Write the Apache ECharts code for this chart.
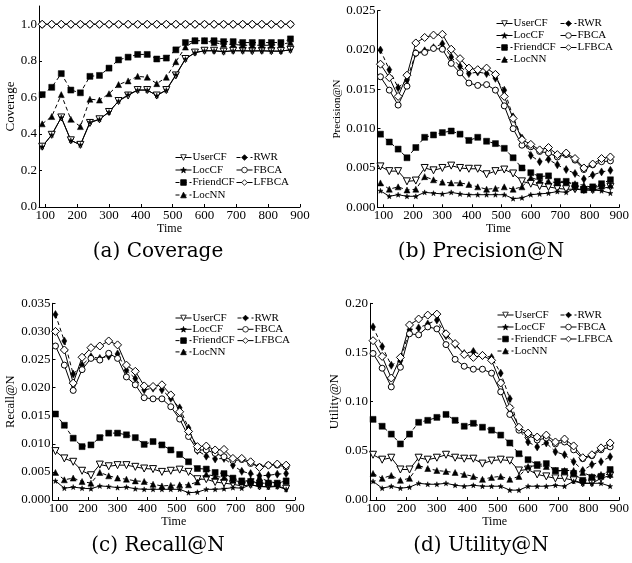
<!DOCTYPE html>
<html><head><meta charset="utf-8">
<script src="https://cdn.jsdelivr.net/npm/echarts@6/dist/echarts.min.js"></script>
<style>html,body{margin:0;padding:0;background:#fff}#c{width:632px;height:563px}</style>
</head><body><div id="c"></div>
<script>
// ---------- data ----------
const times = [90,120,150,180,210,240,270,300,330,360,390,420,450,480,510,540,570,600,630,660,690,720,750,780,810,840,870];
const xTickValues = [100,200,300,400,500,600,700,800,900];
const methods = ['UserCF','LocCF','FriendCF','LocNN','RWR','FBCA','LFBCA'];

// (a) Coverage
const UserCF_a   = [0.33,0.395,0.49,0.365,0.34,0.46,0.48,0.52,0.58,0.61,0.64,0.64,0.61,0.64,0.72,0.81,0.845,0.855,0.855,0.85,0.855,0.855,0.853,0.855,0.853,0.853,0.86];
const LocCF_a    = [0.33,0.395,0.49,0.365,0.34,0.465,0.48,0.52,0.58,0.615,0.64,0.64,0.61,0.64,0.725,0.81,0.845,0.855,0.855,0.85,0.855,0.855,0.855,0.855,0.853,0.853,0.86];
const FriendCF_a = [0.615,0.655,0.73,0.64,0.625,0.715,0.72,0.76,0.805,0.82,0.835,0.835,0.81,0.815,0.86,0.9,0.91,0.91,0.91,0.905,0.905,0.9,0.9,0.9,0.9,0.9,0.92];
const LocNN_a    = [0.455,0.495,0.615,0.48,0.44,0.59,0.585,0.62,0.67,0.69,0.715,0.71,0.675,0.71,0.795,0.875,0.91,0.91,0.9,0.89,0.89,0.885,0.885,0.885,0.885,0.89,0.9];
const RWR_a      = [1,1,1,1,1,1,1,1,1,1,1,1,1,1,1,1,1,1,1,1,1,1,1,1,1,1,1];
const FBCA_a     = [1,1,1,1,1,1,1,1,1,1,1,1,1,1,1,1,1,1,1,1,1,1,1,1,1,1,1];
const LFBCA_a    = [1,1,1,1,1,1,1,1,1,1,1,1,1,1,1,1,1,1,1,1,1,1,1,1,1,1,1];

// (b) Precision@N
const UserCF_b   = [0.0052,0.0046,0.0046,0.0033,0.0034,0.0050,0.0047,0.0050,0.0053,0.0050,0.0049,0.0049,0.0042,0.0046,0.0048,0.0043,0.0033,0.0030,0.0027,0.0026,0.0024,0.0023,0.0023,0.0022,0.0022,0.0024,0.0026];
const LocCF_b    = [0.0021,0.0014,0.0016,0.0014,0.0014,0.0019,0.0018,0.0017,0.0019,0.0017,0.0016,0.0016,0.0016,0.0016,0.0016,0.0011,0.0012,0.0016,0.0017,0.0018,0.0020,0.0019,0.0024,0.0022,0.0022,0.0021,0.0018];
const FriendCF_b = [0.0093,0.0083,0.0074,0.0063,0.0076,0.0089,0.0092,0.0095,0.0097,0.0093,0.0085,0.0089,0.0084,0.0081,0.0075,0.0063,0.0050,0.0044,0.0039,0.0040,0.0033,0.0033,0.0028,0.0022,0.0026,0.0030,0.0035];
const LocNN_b    = [0.0031,0.0023,0.0026,0.0022,0.0023,0.0039,0.0035,0.0032,0.0031,0.0031,0.0029,0.0026,0.0023,0.0024,0.0026,0.0023,0.0026,0.0038,0.0034,0.0033,0.0031,0.0032,0.0030,0.0028,0.0025,0.0027,0.0028];
const RWR_b      = [0.0200,0.0175,0.0152,0.0162,0.0196,0.0199,0.0203,0.0208,0.0191,0.0179,0.0170,0.0172,0.0170,0.0164,0.0149,0.0115,0.0088,0.0066,0.0058,0.0061,0.0054,0.0048,0.0043,0.0036,0.0041,0.0045,0.0047];
const FBCA_b     = [0.0166,0.0149,0.0130,0.0154,0.0196,0.0197,0.0202,0.0201,0.0183,0.0171,0.0158,0.0155,0.0156,0.0149,0.0129,0.0100,0.0079,0.0077,0.0071,0.0069,0.0064,0.0067,0.0060,0.0048,0.0054,0.0058,0.0059];
const LFBCA_b    = [0.0182,0.0165,0.0141,0.0168,0.0209,0.0216,0.0219,0.0220,0.0201,0.0189,0.0177,0.0175,0.0177,0.0169,0.0141,0.0113,0.0086,0.0080,0.0073,0.0076,0.0067,0.0069,0.0062,0.0050,0.0055,0.0062,0.0064];

// (c) Recall@N
const UserCF_c   = [0.0087,0.0074,0.0068,0.0052,0.0044,0.0063,0.0060,0.0062,0.0062,0.0059,0.0056,0.0055,0.0050,0.0052,0.0054,0.0050,0.0037,0.0037,0.0032,0.0030,0.0028,0.0025,0.0027,0.0024,0.0024,0.0025,0.0020];
const LocCF_c    = [0.0034,0.0021,0.0023,0.0021,0.0020,0.0025,0.0024,0.0022,0.0023,0.0020,0.0019,0.0019,0.0019,0.0019,0.0019,0.0013,0.0014,0.0019,0.0019,0.0020,0.0022,0.0021,0.0027,0.0024,0.0023,0.0024,0.0019];
const FriendCF_c = [0.0153,0.0133,0.0110,0.0095,0.0098,0.0111,0.0119,0.0119,0.0116,0.0111,0.0099,0.0104,0.0098,0.0089,0.0081,0.0068,0.0056,0.0055,0.0049,0.0047,0.0039,0.0034,0.0033,0.0030,0.0030,0.0030,0.0034];
const LocNN_c    = [0.0049,0.0036,0.0039,0.0033,0.0030,0.0049,0.0043,0.0039,0.0037,0.0034,0.0033,0.0028,0.0025,0.0026,0.0027,0.0027,0.0032,0.0046,0.0042,0.0040,0.0035,0.0032,0.0036,0.0040,0.0033,0.0030,0.0033];
const RWR_c      = [0.0330,0.0283,0.0224,0.0240,0.0255,0.0252,0.0256,0.0260,0.0231,0.0216,0.0196,0.0199,0.0196,0.0181,0.0164,0.0128,0.0088,0.0078,0.0073,0.0074,0.0062,0.0051,0.0047,0.0043,0.0044,0.0046,0.0047];
const FBCA_c     = [0.0274,0.0240,0.0195,0.0232,0.0252,0.0249,0.0261,0.0252,0.0219,0.0205,0.0182,0.0180,0.0180,0.0166,0.0144,0.0113,0.0089,0.0089,0.0083,0.0077,0.0070,0.0072,0.0065,0.0059,0.0062,0.0062,0.0059];
const LFBCA_c    = [0.0300,0.0267,0.0208,0.0254,0.0271,0.0274,0.0283,0.0276,0.0240,0.0229,0.0203,0.0202,0.0205,0.0187,0.0157,0.0122,0.0095,0.0096,0.0089,0.0090,0.0074,0.0074,0.0068,0.0058,0.0062,0.0064,0.0062];

// (d) Utility@N
const UserCF_d   = [0.046,0.041,0.043,0.031,0.031,0.043,0.041,0.043,0.046,0.043,0.042,0.042,0.037,0.040,0.041,0.040,0.030,0.031,0.026,0.024,0.022,0.022,0.020,0.017,0.017,0.022,0.025];
const LocCF_d    = [0.019,0.012,0.014,0.012,0.013,0.017,0.016,0.016,0.017,0.015,0.014,0.015,0.014,0.014,0.014,0.010,0.010,0.014,0.014,0.014,0.015,0.014,0.019,0.017,0.017,0.017,0.014];
const FriendCF_d = [0.082,0.075,0.067,0.057,0.067,0.079,0.081,0.084,0.087,0.081,0.075,0.078,0.074,0.071,0.066,0.058,0.047,0.041,0.036,0.037,0.030,0.029,0.027,0.020,0.023,0.024,0.031];
const LocNN_d    = [0.027,0.022,0.025,0.020,0.022,0.035,0.032,0.030,0.029,0.028,0.026,0.024,0.021,0.023,0.024,0.021,0.024,0.034,0.035,0.034,0.030,0.030,0.030,0.028,0.024,0.026,0.026];
const RWR_d      = [0.176,0.156,0.137,0.142,0.173,0.175,0.179,0.183,0.167,0.158,0.149,0.151,0.147,0.145,0.129,0.103,0.072,0.059,0.054,0.058,0.049,0.046,0.039,0.030,0.036,0.039,0.044];
const FBCA_d     = [0.149,0.134,0.115,0.135,0.169,0.168,0.176,0.174,0.158,0.143,0.136,0.133,0.133,0.129,0.110,0.087,0.071,0.066,0.061,0.063,0.057,0.059,0.051,0.042,0.045,0.051,0.054];
const LFBCA_d    = [0.162,0.146,0.124,0.145,0.178,0.184,0.188,0.189,0.169,0.159,0.148,0.145,0.147,0.142,0.119,0.094,0.074,0.068,0.064,0.066,0.059,0.062,0.055,0.043,0.046,0.053,0.058];

const yTicks_a = [0,0.2,0.4,0.6,0.8,1.0];
const yTicks_b = [0,0.005,0.010,0.015,0.020,0.025];
const yTicks_c = [0,0.005,0.010,0.015,0.020,0.025,0.030,0.035];
const yTicks_d = [0,0.05,0.10,0.15,0.20];

// ---------- presentation ----------
const SERIF = 'Liberation Serif';
const starPath = 'path://M5,0L6.2,3.6L10,3.7L7,6L8.1,9.6L5,7.5L1.9,9.6L3,6L0,3.7L3.8,3.6Z';
const styleOf = {
  UserCF:   {symbol:'path://M0,0L10,0L5,9Z', size:7, open:true,  dash:'solid'},
  LocCF:    {symbol:starPath, size:5, open:false, dash:'solid'},
  FriendCF: {symbol:'rect', size:6, open:false, dash:[4,3]},
  LocNN:    {symbol:'triangle', size:6, open:false, dash:[4,3]},
  RWR:      {symbol:'path://M3,0L6,5L3,10L0,5Z', size:[5,8], open:false, dash:[4,3]},
  FBCA:     {symbol:'circle', size:6, open:true,  dash:'solid'},
  LFBCA:    {symbol:'diamond', size:8, open:true,  dash:'solid'}
};

const panels = [
  {caption:'(a) Coverage', yName:'Coverage', yMax:1.1, ticks:yTicks_a, dec:1, nameSize:13, nameGap:20,
   grid:{left:39, top:6, width:261, height:201}, cap:[158,252],
   leg:{x1:175, x2:236, top:152, gap:1.5},
   data:{UserCF:UserCF_a, LocCF:LocCF_a, FriendCF:FriendCF_a, LocNN:LocNN_a, RWR:RWR_a, FBCA:FBCA_a, LFBCA:LFBCA_a}},
  {caption:'(b) Precision@N', yName:'Precision@N', yMax:0.025, ticks:yTicks_b, dec:3, nameSize:11, nameGap:33,
   grid:{left:377.5, top:10.7, width:246.5, height:196.6}, cap:[481,252],
   leg:{x1:496, x2:560, top:18, gap:1},
   data:{UserCF:UserCF_b, LocCF:LocCF_b, FriendCF:FriendCF_b, LocNN:LocNN_b, RWR:RWR_b, FBCA:FBCA_b, LFBCA:LFBCA_b}},
  {caption:'(c) Recall@N', yName:'Recall@N', yMax:0.035, ticks:yTicks_c, dec:3, nameSize:12.5, nameGap:32,
   grid:{left:52.5, top:303.3, width:242.5, height:196.7}, cap:[158,546],
   leg:{x1:175, x2:237, top:312.5, gap:0.3},
   data:{UserCF:UserCF_c, LocCF:LocCF_c, FriendCF:FriendCF_c, LocNN:LocNN_c, RWR:RWR_c, FBCA:FBCA_c, LFBCA:LFBCA_c}},
  {caption:'(d) Utility@N', yName:'Utility@N', yMax:0.20, ticks:yTicks_d, dec:2, nameSize:13, nameGap:27,
   grid:{left:370, top:303.3, width:252.5, height:196.7}, cap:[481,546],
   leg:{x1:497, x2:560, top:309.5, gap:1},
   data:{UserCF:UserCF_d, LocCF:LocCF_d, FriendCF:FriendCF_d, LocNN:LocNN_d, RWR:RWR_d, FBCA:FBCA_d, LFBCA:LFBCA_d}}
];

const grids = [], xAxes = [], yAxes = [], series = [], legends = [], titles = [];
const axisLineStyle = {color:'#000', width:1};
panels.forEach((p, i) => {
  grids.push(Object.assign({containLabel:false}, p.grid));
  xAxes.push({
    type:'value', gridIndex:i, min:80, max:900,
    axisLine:{show:true, onZero:false, lineStyle:axisLineStyle},
    axisTick:{show:true, inside:true, length:3, customValues:xTickValues, lineStyle:axisLineStyle},
    axisLabel:{customValues:xTickValues, margin:2, color:'#000', fontFamily:SERIF, fontSize:13},
    splitLine:{show:false},
    name:'Time', nameLocation:'middle', nameGap:13,
    nameTextStyle:{color:'#000', fontFamily:SERIF, fontSize:12}
  });
  yAxes.push({
    type:'value', gridIndex:i, min:0, max:p.yMax,
    axisLine:{show:true, onZero:false, lineStyle:axisLineStyle},
    axisTick:{show:true, inside:true, length:3, customValues:p.ticks, lineStyle:axisLineStyle},
    axisLabel:{customValues:p.ticks, margin:2, color:'#000', fontFamily:SERIF, fontSize:13,
               formatter:v => v.toFixed(p.dec)},
    splitLine:{show:false},
    name:p.yName, nameLocation:'middle', nameGap:p.nameGap,
    nameTextStyle:{color:'#000', fontFamily:SERIF, fontSize:p.nameSize}
  });
  methods.forEach(m => {
    const s = styleOf[m];
    series.push({
      type:'line', name:m, xAxisIndex:i, yAxisIndex:i,
      data: times.map((t, k) => [t, p.data[m][k]]),
      symbol:s.symbol, symbolSize:s.size, showAllSymbol:true,
      color:'#000',
      lineStyle:{color:'#000', width:1, type:s.dash},
      itemStyle: s.open ? {color:'#fff', borderColor:'#000', borderWidth:1} : {color:'#000', borderColor:'#000', borderWidth:0.5},
      emphasis:{disabled:true}, animation:false, silent:true
    });
  });
  const legBase = {orient:'vertical', padding:0, itemWidth:16, itemHeight:7, itemGap:p.leg.gap,
    selectedMode:false, top:p.leg.top,
    itemStyle:{borderWidth:0.8},
    lineStyle:{width:1},
    textStyle:{color:'#000', fontFamily:SERIF, fontSize:11, padding:[0,0,0,-4]}};
  legends.push(Object.assign({}, legBase, {left:p.leg.x1, data:['UserCF','LocCF','FriendCF','LocNN']}));
  legends.push(Object.assign({}, legBase, {left:p.leg.x2, data:['RWR','FBCA','LFBCA']}));
  titles.push({text:p.caption, left:p.cap[0], top:p.cap[1], textAlign:'center', textVerticalAlign:'middle', padding:0,
    textStyle:{color:'#000', fontFamily:'DejaVu Serif', fontSize:20, fontWeight:'normal'}});
});

const chart = echarts.init(document.getElementById('c'), null, {renderer:'canvas'});
chart.setOption({
  backgroundColor:'#fff', animation:false,
  title:titles, grid:grids, xAxis:xAxes, yAxis:yAxes, legend:legends, series:series
});
</script>
</body></html>
